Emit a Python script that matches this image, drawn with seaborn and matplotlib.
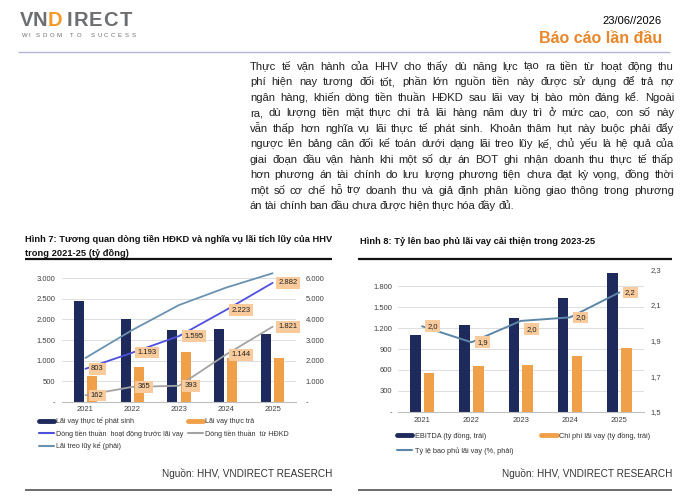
import matplotlib
matplotlib.use('Agg')
import matplotlib.pyplot as plt
import seaborn as sns
import pandas as pd
import numpy as np
import unicodedata
from matplotlib.lines import Line2D
from matplotlib.ticker import FuncFormatter, FixedLocator

# ---------------- data ----------------
years = ['2021', '2022', '2023', '2024', '2025']

# Hình 7
lai_phat_sinh = [2440, 2010, 1735, 1760, 1640]
lai_thuc_tra = [640, 840, 1210, 1070, 1060]
dt_truoc_lai = [803, 1193, 1595, 2223, 2882]
dt_hdkd = [162, 365, 393, 1144, 1821]
lai_treo = [2130, 3480, 4690, 5530, 6230]

# Hình 8
ebitda = [1100, 1240, 1340, 1630, 1990]
chi_phi_lai = [560, 650, 675, 800, 910]
ty_le = [1.98, 1.89, 2.01, 2.03, 2.17]

left7_ticks = [0, 500, 1000, 1500, 2000, 2500, 3000]
right7_ticks = [0, 1000, 2000, 3000, 4000, 5000, 6000]
left8_ticks = [0, 300, 600, 900, 1200, 1500, 1800]
right8_ticks = [1.5, 1.7, 1.9, 2.1, 2.3]

body_lines = [
    "Thực tế vận hành của HHV cho thấy dù năng lực tạo ra tiền từ hoạt động thu",
    "phí hiện nay tương đối tốt, phần lớn nguồn tiền này được sử dụng để trả nợ",
    "ngân hàng, khiến dòng tiền thuần HĐKD sau lãi vay bị bào mòn đáng kể. Ngoài",
    "ra, dù lượng tiền mặt thực chi trả lãi hàng năm duy trì ở mức cao, con số này",
    "vẫn thấp hơn nghĩa vụ lãi thực tế phát sinh. Khoản thâm hụt này buộc phải đẩy",
    "ngược lên bảng cân đối kế toán dưới dạng lãi treo lũy kế, chủ yếu là hệ quả của",
    "giai đoạn đầu vận hành khi một số dự án BOT ghi nhận doanh thu thực tế thấp",
    "hơn phương án tài chính do lưu lượng phương tiện chưa đạt kỳ vọng, đồng thời",
    "một số cơ chế hỗ trợ doanh thu và giả định phân luồng giao thông trong phương",
    "án tài chính ban đầu chưa được hiện thực hóa đầy đủ.",
]

# ---------------- style ----------------
sns.set_theme(style='white')
plt.rcParams['font.family'] = ['Liberation Sans', 'DejaVu Sans']

W, H = 690, 498
fig = plt.figure(figsize=(W / 100, H / 100), dpi=100)
fig.patch.set_facecolor('white')


def fx(x):
    return x / W


def fy(y):
    return 1 - y / H


NAVY = '#1F2A5C'
ORANGE = '#F0A048'
PURPLE = '#4F4FDD'
GRAY = '#A3A3A3'
STEEL = '#6A92B0'
STEEL8 = '#5B86A8'
BOX = '#F9CB9C'
TXT = '#333333'


def vn_thousands(v, pos=None):
    if v == 0:
        return '-'
    return f"{int(round(v)):,}".replace(',', '.')


def vn_dec(v, pos=None):
    return f"{v:.1f}".replace('.', ',')


def hline(x0, x1, y, color, lw):
    fig.add_artist(Line2D([fx(x0), fx(x1)], [fy(y), fy(y)], transform=fig.transFigure,
                          color=color, lw=lw, solid_capstyle='butt'))


# ---------------- header ----------------
logo_letters = [('V', 20, '#6D6E71'), ('N', 33, '#6D6E71'), ('D', 48, '#F39A2B'),
                ('I', 66.5, '#6D6E71'), ('R', 73.5, '#6D6E71'), ('E', 89, '#6D6E71'),
                ('C', 103, '#6D6E71'), ('T', 119.5, '#6D6E71')]
for ch, x, c in logo_letters:
    fig.text(fx(x), fy(25.5), ch, fontsize=14.5, fontweight='bold', color=c,
             ha='left', va='baseline')
for i, ch in enumerate('WISDOM TO SUCCESS'):
    if ch != ' ':
        fig.text(fx(22 + i * 6.85), fy(35.8), ch, fontsize=4.3,
                 color='#6D6E71', ha='left', va='center')
fig.text(fx(662), fy(21.5), '23/06//2026', fontsize=8, color='black', ha='right', va='center')
fig.text(fx(662), fy(38.5), 'Báo cáo lần đầu', fontsize=11.5, fontweight='bold',
         color='#E8862A', ha='right', va='center')
hline(18, 670, 52, '#B4B4D4', 1.0)

# ---------------- body text (justified, word by word) ----------------
renderer = fig.canvas.get_renderer()
BODY_FS = 8.1
BODY_FAMILY = 'Liberation Sans'
x0, x1 = 250, 674


def baseline_fix(word):
    # words whose only below-baseline ink is a dot-below mark snap a pixel low
    nfd = unicodedata.normalize('NFD', word)
    if '\u0323' in nfd and not any(c in 'gpqyj,;' for c in word):
        return 0.9
    return 0.0


for i, line in enumerate(body_lines):
    yb = 66 + 15.45 * i + 4
    words = line.split(' ')
    ts = [fig.text(0, 0, w, fontsize=BODY_FS, family=BODY_FAMILY, color='#222222',
                   ha='left', va='baseline') for w in words]
    widths = [t.get_window_extent(renderer).width for t in ts]
    if i < len(body_lines) - 1:
        gap = (x1 - x0 - sum(widths)) / (len(words) - 1)
    else:
        gap = 2.3
    x = x0
    for t, w, word in zip(ts, widths, words):
        t.set_position((fx(x), fy(yb - baseline_fix(word))))
        x += w + gap

# ---------------- titles & rules ----------------
TITLE_FS = 6.7
fig.text(fx(25), fy(240), 'Hình 7: Tương quan dòng tiền HĐKD và nghĩa vụ lãi tích lũy của HHV',
         fontsize=TITLE_FS, fontweight='bold', color='#111111', ha='left', va='center')
fig.text(fx(25), fy(253), 'trong 2021-25 (tỷ đồng)',
         fontsize=TITLE_FS, fontweight='bold', color='#111111', ha='left', va='center')
fig.text(fx(360), fy(241), 'Hình 8: Tỷ lên bao phủ lãi vay cải thiện trong 2023-25',
         fontsize=TITLE_FS, fontweight='bold', color='#111111', ha='left', va='center')
hline(25, 332, 259, '#111111', 1.6)
hline(358, 672, 259, '#111111', 1.6)
hline(25, 332, 490, '#444444', 1.1)
hline(358, 672, 490, '#444444', 1.1)
fig.text(fx(332), fy(473), 'Nguồn: HHV, VNDIRECT REASERCH', fontsize=7.2, color=TXT,
         ha='right', va='center')
fig.text(fx(672), fy(473), 'Nguồn: HHV, VNDIRECT RESEARCH', fontsize=7.2, color=TXT,
         ha='right', va='center')

TICK_FS = 5.5


def style_axes(ax, axr):
    for s in ax.spines.values():
        s.set_visible(False)
    for s in axr.spines.values():
        s.set_visible(False)
    ax.spines['bottom'].set_visible(True)
    ax.spines['bottom'].set_color('#BFBFBF')
    ax.spines['bottom'].set_linewidth(0.8)
    ax.set_facecolor('none')
    ax.yaxis.grid(True, color='#D9D9D9', lw=0.6)
    ax.xaxis.grid(False)
    ax.set_axisbelow(True)
    ax.set_xlabel('')
    ax.set_ylabel('')
    axr.set_xlabel('')
    axr.set_ylabel('')
    ax.tick_params(axis='both', length=0, labelsize=TICK_FS, labelcolor='#404040')
    axr.tick_params(axis='both', length=0, labelsize=TICK_FS, labelcolor='#404040')


# ---------------- Hình 7 ----------------
ax7 = fig.add_axes([fx(62), fy(402), (296 - 62) / W, (402 - 270) / H])
df7 = pd.DataFrame({
    'Năm': years * 2,
    'Giá trị': lai_phat_sinh + lai_thuc_tra,
    'Loại': ['Lãi vay thực tế phát sinh'] * 5 + ['Lãi vay thực trả'] * 5,
})
sns.barplot(data=df7, x='Năm', y='Giá trị', hue='Loại', palette=[NAVY, ORANGE],
            width=0.56, gap=0.23, saturation=1, ax=ax7, legend=False, linewidth=0)
xs = np.arange(len(years))
sns.lineplot(x=xs, y=dt_truoc_lai, ax=ax7, color=PURPLE, lw=1.3)
sns.lineplot(x=xs, y=dt_hdkd, ax=ax7, color=GRAY, lw=1.3)
ax7.set_xlim(-0.5, 4.5)
ax7.set_ylim(0, 3000 * 132 / 124)
ax7.yaxis.set_major_locator(FixedLocator(left7_ticks))
ax7.yaxis.set_major_formatter(FuncFormatter(vn_thousands))

ax7r = ax7.twinx()
sns.lineplot(x=xs, y=lai_treo, ax=ax7r, color=STEEL, lw=1.3)
ax7r.set_ylim(0, 6000 * 132 / 124)
ax7r.yaxis.set_major_locator(FixedLocator(right7_ticks))
ax7r.yaxis.set_major_formatter(FuncFormatter(vn_thousands))
style_axes(ax7, ax7r)
ax7.tick_params(axis='y', pad=5)
ax7r.tick_params(axis='y', pad=7)
ax7.tick_params(axis='x', pad=3)

for series in (dt_truoc_lai, dt_hdkd):
    for i, v in enumerate(series):
        ax7.annotate(vn_thousands(v), (i, v), xytext=(4, 0), textcoords='offset points',
                     ha='left', va='center', fontsize=5.5, color='#222222',
                     bbox=dict(boxstyle='square,pad=0.3', fc=BOX, ec='none'), zorder=5)

leg7_handles = [
    Line2D([], [], color=NAVY, lw=3.5),
    Line2D([], [], color=PURPLE, lw=1.5),
    Line2D([], [], color=STEEL, lw=1.5),
    Line2D([], [], color=ORANGE, lw=3.5),
    Line2D([], [], color=GRAY, lw=1.5),
]
leg7_labels = ['Lãi vay thực tế phát sinh', 'Dòng tiền thuần  hoạt động trước lãi vay',
               'Lãi treo lũy kế (phải)', 'Lãi vay thực trả', 'Dòng tiền thuần  từ HĐKD']
fig.legend(leg7_handles, leg7_labels, loc='upper left', bbox_to_anchor=(fx(39), fy(417)),
           ncol=2, frameon=False, fontsize=5.1, handlelength=2.1, handletextpad=0.3,
           columnspacing=0.7, labelspacing=0.62, borderpad=0, borderaxespad=0,
           labelcolor='#333333')

# ---------------- Hình 8 ----------------
ax8 = fig.add_axes([fx(397.5), fy(411.7), (644 - 397.5) / W, 142.4 / H])
df8 = pd.DataFrame({
    'Năm': years * 2,
    'Giá trị': ebitda + chi_phi_lai,
    'Loại': ['EBITDA (tỷ đồng, trái)'] * 5 + ['Chi phí lãi vay (tỷ đồng, trái)'] * 5,
})
sns.barplot(data=df8, x='Năm', y='Giá trị', hue='Loại', palette=[NAVY, ORANGE],
            width=0.56, gap=0.23, saturation=1, ax=ax8, legend=False, linewidth=0)
ax8.set_xlim(-0.5, 4.5)
ax8.set_ylim(0, 300 * 142.4 / 20.9)
ax8.yaxis.set_major_locator(FixedLocator(left8_ticks))
ax8.yaxis.set_major_formatter(FuncFormatter(vn_thousands))

ax8r = ax8.twinx()
sns.lineplot(x=xs, y=ty_le, ax=ax8r, color=STEEL8, lw=1.4)
ax8r.set_ylim(1.5, 2.3)
ax8r.yaxis.set_major_locator(FixedLocator(right8_ticks))
ax8r.yaxis.set_major_formatter(FuncFormatter(vn_dec))
style_axes(ax8, ax8r)
ax8.tick_params(axis='y', pad=4)
ax8r.tick_params(axis='y', pad=4.5)
ax8.tick_params(axis='x', pad=4)

for i, v in enumerate(ty_le):
    off = (4, -6) if i == 2 else (4, 0)
    ax8r.annotate(vn_dec(v), (i, v), xytext=off, textcoords='offset points',
                  ha='left', va='center', fontsize=5.5, color='#222222',
                  bbox=dict(boxstyle='square,pad=0.3', fc=BOX, ec='none'), zorder=5)

leg8_handles = [
    Line2D([], [], color=NAVY, lw=3.5),
    Line2D([], [], color=STEEL8, lw=1.5),
    Line2D([], [], color=ORANGE, lw=3.5),
]
leg8_labels = ['EBITDA (tỷ đồng, trái)', 'Tỷ lệ bao phủ lãi vay (%, phải)',
               'Chi phí lãi vay (tỷ đồng, trái)']
fig.legend(leg8_handles, leg8_labels, loc='upper left', bbox_to_anchor=(fx(397), fy(432)),
           ncol=2, frameon=False, fontsize=5.3, handlelength=2.1, handletextpad=0.3,
           columnspacing=3.8, labelspacing=0.95, borderpad=0, borderaxespad=0,
           labelcolor='#333333')

fig.savefig('out.png', dpi=100, facecolor='white')
